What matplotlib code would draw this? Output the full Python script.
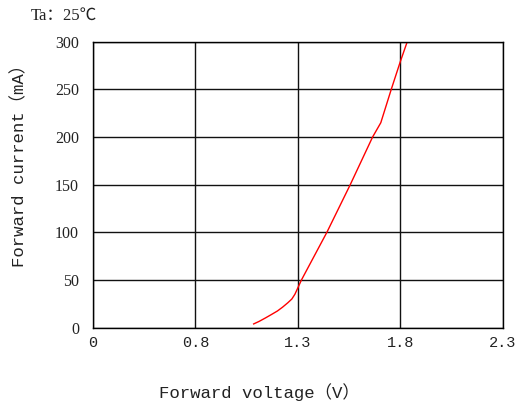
import matplotlib.pyplot as plt

# Forward voltage (V) vs forward current (mA)
voltage = [1.084, 1.11, 1.14, 1.17, 1.20, 1.225, 1.25, 1.27, 1.285, 1.300, 1.317,
           1.441, 1.555, 1.664, 1.704, 1.755, 1.799, 1.833]
current = [3.9, 6.5, 10, 13.7, 17.5, 21.5, 26, 30, 35, 42, 50,
           100, 150, 200, 215, 250, 279, 300]

# x axis is drawn in equal steps but the first label is "0"
x_ticks = [0.3, 0.8, 1.3, 1.8, 2.3]
x_labels = ['0', '0.8', '1.3', '1.8', '2.3']
y_ticks = [0, 50, 100, 150, 200, 250, 300]

mono = ['Liberation Mono', 'Noto Sans CJK SC']
serif = ['Liberation Serif', 'Noto Sans CJK SC']

fig = plt.figure(figsize=(5.22, 4.05), dpi=100)
ax = fig.add_axes([0.178, 0.191, 0.7856, 0.706])

ax.plot(voltage, current, color='red', linewidth=1.0)

ax.set_xlim(0.3, 2.3)
ax.set_ylim(0, 300)
ax.set_xticks(x_ticks)
ax.set_xticklabels(x_labels, family=mono, fontsize=11, color='#222222')
ax.set_yticks(y_ticks)
ax.set_yticklabels([str(v) for v in y_ticks], family=serif, fontsize=11.5, color='#222222')
ax.tick_params(axis='x', length=0, pad=6)
ax.tick_params(axis='y', length=0, pad=10)
ax.grid(True, color='#111111', linewidth=1.0)
for s in ax.spines.values():
    s.set_color('black')
    s.set_linewidth(1.0)

ax.set_xlabel('Forward voltage（V）', family=mono, fontsize=12.5, color='#222222', va='center')
ax.xaxis.set_label_coords(0.405, -0.225)
ax.set_ylabel('Forward current（mA）', family=mono, fontsize=12.5, color='#222222', va='center')
ax.yaxis.set_label_coords(-0.18, 0.58)

fig.text(0.058, 0.962, 'Ta：25℃', family=serif, fontsize=12, color='#222222', va='center')

plt.savefig('out.png')
